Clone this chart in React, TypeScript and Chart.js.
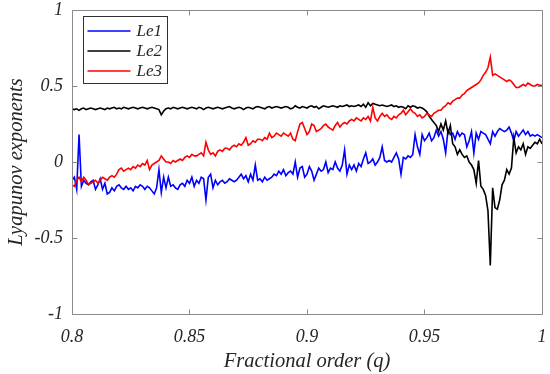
import React, { useEffect, useRef } from "react";
import { Chart, registerables } from "chart.js";

Chart.register(...registerables);

// Fractional order q from 0.800 to 1.000, step 0.001
const Q_START = 0.8;
const Q_STEP = 0.001;

const le1: number[] = [
  -0.12, -0.1, -0.18, 0.18, -0.16, -0.12, -0.14, -0.15, -0.13, -0.12,
  -0.18, -0.15, -0.11, -0.18, -0.14, -0.21, -0.2, -0.17, -0.19, -0.16,
  -0.15, -0.17, -0.18, -0.16, -0.18, -0.17, -0.19, -0.16, -0.17, -0.15,
  -0.16, -0.18, -0.16, -0.17, -0.19, -0.21, -0.17, -0.05, -0.2, -0.1,
  -0.17, -0.1, -0.16, -0.15, -0.17, -0.18, -0.15, -0.14, -0.16, -0.12,
  -0.14, -0.1, -0.16, -0.12, -0.14, -0.1, -0.11, -0.25, -0.1, -0.08,
  -0.17, -0.12, -0.15, -0.13, -0.12, -0.14, -0.13, -0.11, -0.12, -0.13,
  -0.12, -0.1, -0.08, -0.11, -0.09, -0.13, -0.08, -0.12, -0.02, -0.12,
  -0.11, -0.13, -0.1, -0.12, -0.11, -0.1, -0.08, -0.09, -0.06, -0.08,
  -0.05, -0.09, -0.07, -0.06, -0.08, 0.0, -0.1, -0.04, -0.03, -0.1,
  -0.08, -0.03, -0.06, -0.12, -0.08, -0.04, -0.06, -0.05, 0.0, -0.07,
  -0.04, -0.05, 0.0, -0.04, -0.06, -0.02, 0.08, -0.08, -0.02, -0.05,
  -0.02, -0.06, -0.01, -0.03, 0.02, 0.06, -0.01, 0.0, 0.02, -0.02,
  0.0, 0.03, 0.1, 0.01, 0.0, 0.01, 0.0, 0.03, 0.06, 0.02,
  -0.08, 0.03, 0.02, 0.04, 0.03, 0.05, 0.18, 0.1, 0.05, 0.18,
  0.14, 0.16, 0.19, 0.14, 0.16, 0.21, 0.17, 0.2, 0.15, 0.06,
  0.21, 0.18, 0.19, 0.15, 0.2, 0.17, 0.19, 0.18, 0.1, 0.14,
  0.2, 0.06, 0.19, 0.15, 0.2, 0.19, 0.18, 0.15, 0.12, 0.2,
  0.17, 0.2, 0.22, 0.21, 0.2, 0.21, 0.23, 0.19, 0.14, 0.2,
  0.17, 0.19, 0.21, 0.18, 0.2, 0.17, 0.18, 0.17, 0.18, 0.17,
  0.16,
];

const le2: number[] = [
  0.35, 0.345, 0.35, 0.34, 0.35, 0.355, 0.345, 0.35, 0.355, 0.35,
  0.345, 0.35, 0.355, 0.35, 0.345, 0.355, 0.35, 0.355, 0.36, 0.35,
  0.355, 0.35, 0.36, 0.355, 0.35, 0.355, 0.36, 0.355, 0.35, 0.355,
  0.36, 0.355, 0.35, 0.355, 0.36, 0.355, 0.35, 0.345, 0.31, 0.335,
  0.35, 0.355, 0.35, 0.36, 0.355, 0.35, 0.355, 0.36, 0.355, 0.35,
  0.355, 0.36, 0.355, 0.35, 0.36, 0.355, 0.345, 0.355, 0.36, 0.355,
  0.35, 0.355, 0.36, 0.355, 0.35, 0.355, 0.36, 0.365, 0.355, 0.35,
  0.355, 0.36, 0.355, 0.345, 0.355, 0.36, 0.355, 0.35, 0.36, 0.365,
  0.36, 0.355, 0.35, 0.36, 0.365, 0.355, 0.36, 0.365, 0.36, 0.355,
  0.36, 0.365, 0.36, 0.35, 0.355, 0.37, 0.36, 0.355, 0.365, 0.36,
  0.355, 0.365, 0.37, 0.36, 0.365, 0.35, 0.36, 0.37, 0.365, 0.36,
  0.365, 0.37, 0.365, 0.36, 0.37, 0.365, 0.37, 0.375, 0.365, 0.37,
  0.365, 0.37, 0.375, 0.365, 0.38, 0.36, 0.39, 0.37, 0.385, 0.38,
  0.375, 0.37, 0.375, 0.37, 0.365, 0.37, 0.375, 0.365, 0.37, 0.36,
  0.365, 0.36, 0.35, 0.37, 0.36, 0.37, 0.365, 0.355, 0.36, 0.355,
  0.345, 0.33, 0.3, 0.28, 0.26, 0.24, 0.2, 0.25, 0.21, 0.27,
  0.19, 0.24, 0.12, 0.1, 0.05, 0.08, 0.05, 0.03, 0.04, 0.0,
  -0.02, -0.05, -0.14, 0.01, -0.16, -0.18, -0.22, -0.32, -0.68, -0.17,
  -0.3, -0.31, -0.25, -0.15, -0.12, -0.05, -0.08, -0.04, 0.16, 0.06,
  0.1, 0.08, 0.12, 0.05, 0.1, 0.09, 0.11, 0.13, 0.12, 0.15,
  0.12,
];

const le3: number[] = [
  -0.15, -0.16, -0.12, -0.1, -0.13, -0.1, -0.12, -0.15, -0.14, -0.13,
  -0.12, -0.14, -0.12, -0.1, -0.11, -0.12, -0.1, -0.09, -0.1, -0.08,
  -0.05, -0.04, -0.06, -0.05, -0.04, -0.05, -0.03, -0.04, -0.02, -0.03,
  -0.01, -0.02, 0.01, -0.05, -0.02, -0.01, 0.0, 0.01, 0.04, 0.02,
  0.0, 0.0, -0.01, 0.01, 0.0, 0.01, 0.02, 0.01, 0.03, 0.04,
  0.03, 0.05, 0.04, 0.04, 0.05, 0.06, 0.04, 0.13, 0.08, 0.05,
  0.06, 0.04, 0.07, 0.08, 0.07, 0.09, 0.09, 0.08, 0.1, 0.11,
  0.1, 0.12, 0.11, 0.13, 0.16, 0.11, 0.12, 0.14, 0.13, 0.15,
  0.15, 0.14, 0.16, 0.15, 0.19, 0.16, 0.17, 0.19, 0.18, 0.17,
  0.19, 0.18, 0.17, 0.19, 0.15, 0.14, 0.2, 0.25, 0.26, 0.22,
  0.18, 0.2, 0.25, 0.24, 0.2, 0.21, 0.22, 0.24, 0.25, 0.23,
  0.22, 0.21, 0.24, 0.26, 0.23, 0.25, 0.26, 0.25, 0.27, 0.28,
  0.27, 0.29, 0.28, 0.27, 0.29, 0.28, 0.3, 0.27, 0.36, 0.29,
  0.27, 0.3, 0.32, 0.3, 0.31, 0.29, 0.28, 0.3, 0.29, 0.31,
  0.32, 0.34, 0.31, 0.33, 0.35, 0.33, 0.32, 0.3, 0.31, 0.29,
  0.3, 0.32, 0.31, 0.3, 0.32, 0.33, 0.34, 0.34, 0.36, 0.37,
  0.39, 0.38, 0.4, 0.41, 0.42, 0.42, 0.44, 0.45, 0.47, 0.48,
  0.49, 0.5, 0.51, 0.52, 0.54, 0.57, 0.59, 0.62, 0.69, 0.57,
  0.58, 0.57, 0.56, 0.55, 0.54, 0.53, 0.54, 0.53, 0.51, 0.49,
  0.49, 0.5, 0.51, 0.5, 0.52, 0.51, 0.5, 0.5, 0.51, 0.505,
  0.505,
];

const SERIES_NAMES = ["Le1", "Le2", "Le3"];
const SERIES_COLORS = ["#0000ff", "#000000", "#ff0000"];

const X_TICKS = [0.8, 0.85, 0.9, 0.95, 1];
const X_TICK_LABELS = ["0.8", "0.85", "0.9", "0.95", "1"];
const Y_TICKS = [-1, -0.5, 0, 0.5, 1];
const Y_TICK_LABELS = ["-1", "-0.5", "0", "0.5", "1"];

const X_TITLE = "Fractional order (q)";
const Y_TITLE = "Lyapunov exponents";

const AXIS_COLOR = "#8a8a8a";
const TEXT_COLOR = "#262626";
const FONT_FAMILY = "'Liberation Serif', 'Times New Roman', serif";

const toPoints = (vals: number[]) =>
  vals.map((y, i) => ({ x: Number((Q_START + i * Q_STEP).toFixed(3)), y }));

const framePlugin = {
  id: "matlabFrame",
  afterDatasetsDraw(chart: any) {
    const { ctx, chartArea: a, scales } = chart;
    const L = 5;
    ctx.save();
    ctx.strokeStyle = AXIS_COLOR;
    ctx.lineWidth = 1;
    const l = Math.round(a.left) + 0.5;
    const r = Math.round(a.right) + 0.5;
    const t = Math.round(a.top) + 0.5;
    const b = Math.round(a.bottom) + 0.5;
    ctx.beginPath();
    ctx.rect(l, t, r - l, b - t);
    X_TICKS.forEach((v) => {
      const px = Math.round(scales.x.getPixelForValue(v)) + 0.5;
      ctx.moveTo(px, b);
      ctx.lineTo(px, b - L);
      ctx.moveTo(px, t);
      ctx.lineTo(px, t + L);
    });
    Y_TICKS.forEach((v) => {
      const py = Math.round(scales.y.getPixelForValue(v)) + 0.5;
      ctx.moveTo(l, py);
      ctx.lineTo(l + L, py);
      ctx.moveTo(r, py);
      ctx.lineTo(r - L, py);
    });
    ctx.stroke();

    // legend box inside the axes (top-left)
    const bx = Math.round(a.left) + 11.5;
    const by = Math.round(a.top) + 6.5;
    const bw = 84;
    const bh = 67;
    ctx.fillStyle = "#ffffff";
    ctx.fillRect(bx, by, bw, bh);
    ctx.strokeStyle = "#303030";
    ctx.lineWidth = 1;
    ctx.strokeRect(bx, by, bw, bh);
    ctx.font = `italic 17px ${FONT_FAMILY}`;
    ctx.textBaseline = "middle";
    ctx.textAlign = "left";
    chart.data.datasets.forEach((ds: any, i: number) => {
      const y = by + 14.5 + i * 20;
      ctx.strokeStyle = ds.borderColor;
      ctx.lineWidth = 1.6;
      ctx.beginPath();
      ctx.moveTo(bx + 4, y);
      ctx.lineTo(bx + 47, y);
      ctx.stroke();
      ctx.fillStyle = TEXT_COLOR;
      ctx.fillText(ds.label, bx + 53, y + 1);
    });
    ctx.restore();
  },
};

export default function App() {
  const ref = useRef<HTMLCanvasElement | null>(null);

  useEffect(() => {
    if (!ref.current) return;
    const series = [le1, le2, le3];
    const chart = new Chart(ref.current, {
      type: "line",
      data: {
        datasets: series.map((vals, i) => ({
          label: SERIES_NAMES[i],
          data: toPoints(vals),
          borderColor: SERIES_COLORS[i],
          backgroundColor: SERIES_COLORS[i],
          borderWidth: 1.6,
          pointRadius: 0,
          tension: 0,
          fill: false,
          order: 3 - i,
        })),
      },
      options: {
        animation: false,
        responsive: false,
        devicePixelRatio: 1,
        layout: { padding: { left: 0, right: 8, top: 10, bottom: 0 } },
        plugins: {
          legend: { display: false },
          tooltip: { enabled: false },
        },
        scales: {
          x: {
            type: "linear",
            min: 0.8,
            max: 1,
            grid: { display: false, drawTicks: false },
            border: { display: false },
            afterBuildTicks: (scale: any) => {
              scale.ticks = X_TICKS.map((v) => ({ value: v }));
            },
            afterFit: (scale: any) => {
              scale.height = 60;
              scale.paddingLeft = 0;
              scale.paddingRight = 0;
            },
            ticks: {
              autoSkip: false,
              maxRotation: 0,
              padding: 12,
              color: TEXT_COLOR,
              font: { family: FONT_FAMILY, size: 18, style: "italic" },
              callback: (v: any) => {
                const idx = X_TICKS.findIndex((t) => Math.abs(t - v) < 1e-9);
                return idx >= 0 ? X_TICK_LABELS[idx] : "";
              },
            },
            title: {
              display: true,
              text: X_TITLE,
              color: TEXT_COLOR,
              font: { family: FONT_FAMILY, size: 20.5, style: "italic" },
              padding: { top: 0, bottom: 0 },
            },
          },
          y: {
            type: "linear",
            min: -1,
            max: 1,
            grid: { display: false, drawTicks: false },
            border: { display: false },
            afterBuildTicks: (scale: any) => {
              scale.ticks = Y_TICKS.map((v) => ({ value: v }));
            },
            afterFit: (scale: any) => {
              scale.width = 72;
              scale.paddingTop = 0;
              scale.paddingBottom = 0;
            },
            ticks: {
              autoSkip: false,
              padding: 9,
              color: TEXT_COLOR,
              font: { family: FONT_FAMILY, size: 18, style: "italic" },
              callback: (v: any) => {
                const idx = Y_TICKS.findIndex((t) => Math.abs(t - v) < 1e-9);
                return idx >= 0 ? Y_TICK_LABELS[idx] : "";
              },
            },
            title: {
              display: true,
              text: Y_TITLE,
              color: TEXT_COLOR,
              font: { family: FONT_FAMILY, size: 20.5, style: "italic" },
              padding: { top: 4, bottom: 0 },
            },
          },
        },
      },
      plugins: [framePlugin],
    } as any);
    return () => chart.destroy();
  }, []);

  return (
    <div style={{ position: "fixed", left: 0, top: 0, width: 550, height: 374, background: "#fff" }}>
      <canvas ref={ref} width={550} height={374} style={{ display: "block" }} />
    </div>
  );
}
